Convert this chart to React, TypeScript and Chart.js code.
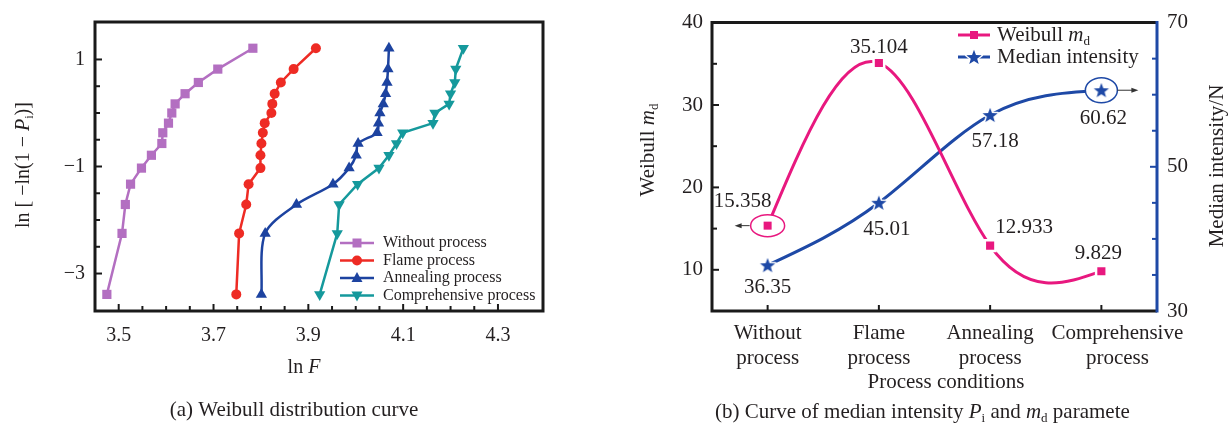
import React, { useEffect, useRef } from 'react';
import { Chart, registerables } from 'chart.js';

Chart.register(...registerables);

// ---------------- Chart (a) data ----------------
const lnP = [-3.39, -2.25, -1.71, -1.33, -1.03, -0.79, -0.57, -0.37, -0.19, 0.0, 0.17, 0.36, 0.57, 0.82, 1.21];
const lnFWithout = [3.475, 3.507, 3.514, 3.525, 3.548, 3.569, 3.591, 3.593, 3.605, 3.612, 3.619, 3.640, 3.668, 3.709, 3.783];
const lnFFlame = [3.748, 3.754, 3.769, 3.774, 3.799, 3.799, 3.801, 3.804, 3.808, 3.822, 3.824, 3.829, 3.842, 3.869, 3.916];
const lnFAnnealing = [3.801, 3.809, 3.875, 3.952, 3.986, 4.001, 4.005, 4.045, 4.048, 4.051, 4.058, 4.063, 4.066, 4.068, 4.070];
const lnFComprehensive = [3.924, 3.961, 3.965, 4.004, 4.049, 4.070, 4.086, 4.099, 4.163, 4.167, 4.197, 4.200, 4.209, 4.211, 4.227];
const seriesNamesA = ['Without process', 'Flame process', 'Annealing process', 'Comprehensive process'];
const xTickLabelsA = [3.5, 3.7, 3.9, 4.1, 4.3];
const yTickLabelsA = [1, -1, -3];

// ---------------- Chart (b) data ----------------
const processConditions = [['Without', 'process'], ['Flame', 'process'], ['Annealing', 'process'], ['Comprehensive', 'process']];
const weibullMd = [15.358, 35.104, 12.933, 9.829];
const medianIntensity = [36.35, 45.01, 57.18, 60.62];
const seriesNamesB = ['Weibull *m*_d', 'Median intensity'];
const yTickLabelsB = [10, 20, 30, 40];
const y1TickLabelsB = [30, 50, 70];

// ---------------- styles ----------------
const FONT = '"Liberation Serif", "Times New Roman", serif';
const TEXT = '#231f20';
const C_PURPLE = '#b36fc1';
const C_RED = '#ee2b24';
const C_BLUE_A = '#1d43a0';
const C_TEAL = '#15999c';
const C_PINK = '#e8187f';
const C_BLUE_B = '#1e49a6';

type Part = { t: string; it?: boolean; sub?: boolean };

function parseRich(s: string): Part[] {
  const parts: Part[] = [];
  let it = false;
  let buf = '';
  const flush = () => {
    if (buf) {
      parts.push({ t: buf, it });
      buf = '';
    }
  };
  for (let i = 0; i < s.length; i++) {
    const ch = s[i];
    if (ch === '*') {
      flush();
      it = !it;
    } else if (ch === '_') {
      flush();
      parts.push({ t: s[i + 1], sub: true });
      i++;
    } else buf += ch;
  }
  flush();
  return parts;
}

function drawRich(ctx: CanvasRenderingContext2D, text: string, x: number, y: number, size: number, align: string, color: string, rot = 0) {
  const parts = parseRich(text);
  const f = (p: Part) => `${p.it ? 'italic ' : ''}${p.sub ? Math.round(size * 0.62) : size}px ${FONT}`;
  let w = 0;
  for (const p of parts) {
    ctx.font = f(p);
    w += ctx.measureText(p.t).width;
  }
  ctx.save();
  ctx.translate(x, y);
  if (rot) ctx.rotate(rot);
  let cx = align === 'center' ? -w / 2 : align === 'right' ? -w : 0;
  ctx.fillStyle = color;
  ctx.textBaseline = 'middle';
  ctx.textAlign = 'left';
  for (const p of parts) {
    ctx.font = f(p);
    ctx.fillText(p.t, cx, p.sub ? size * 0.3 : 0);
    cx += ctx.measureText(p.t).width;
  }
  ctx.restore();
}

function starPath(g: CanvasRenderingContext2D, cx: number, cy: number, ro: number, ri: number) {
  g.beginPath();
  for (let k = 0; k < 10; k++) {
    const r = k % 2 === 0 ? ro : ri;
    const a = -Math.PI / 2 + (k * Math.PI) / 5;
    const px = cx + r * Math.cos(a);
    const py = cy + r * Math.sin(a);
    if (k === 0) g.moveTo(px, py);
    else g.lineTo(px, py);
  }
  g.closePath();
}

function makeStar(r: number, color: string) {
  const size = Math.ceil(2 * (r + 3));
  const c = document.createElement('canvas');
  c.width = size;
  c.height = size;
  const g = c.getContext('2d')!;
  starPath(g, size / 2, size / 2 + r * 0.08, r, r * 0.42);
  g.lineJoin = 'round';
  g.lineWidth = 3;
  g.strokeStyle = '#ffffff';
  g.stroke();
  g.fillStyle = color;
  g.fill();
  return c;
}

function drawMarker(ctx: CanvasRenderingContext2D, kind: string, x: number, y: number, color: string) {
  ctx.save();
  ctx.fillStyle = color;
  ctx.beginPath();
  if (kind === 'rect') {
    ctx.rect(x - 4.5, y - 4.5, 9, 9);
  } else if (kind === 'circle') {
    ctx.arc(x, y, 5, 0, Math.PI * 2);
  } else if (kind === 'tri') {
    ctx.moveTo(x, y - 6);
    ctx.lineTo(x + 5.5, y + 4);
    ctx.lineTo(x - 5.5, y + 4);
    ctx.closePath();
  } else if (kind === 'triDown') {
    ctx.moveTo(x, y + 6);
    ctx.lineTo(x + 5.5, y - 4);
    ctx.lineTo(x - 5.5, y - 4);
    ctx.closePath();
  }
  ctx.fill();
  ctx.restore();
}

function hasVal(list: number[], v: number) {
  return list.some((t) => Math.abs(t - v) < 1e-6);
}

function fmtMinus(v: number) {
  return String(v).replace('-', '\u2212');
}

function line(ctx: CanvasRenderingContext2D, x1: number, y1: number, x2: number, y2: number) {
  ctx.beginPath();
  ctx.moveTo(x1, y1);
  ctx.lineTo(x2, y2);
  ctx.stroke();
}

// natural cubic spline slopes through pixel points (x increasing)
function naturalSlopes(xs: number[], ys: number[]) {
  const n = xs.length;
  const h: number[] = [];
  for (let i = 0; i < n - 1; i++) h[i] = xs[i + 1] - xs[i];
  const M = new Array(n).fill(0);
  if (n > 2) {
    const a: number[] = [], b: number[] = [], c: number[] = [], d: number[] = [];
    for (let i = 1; i < n - 1; i++) {
      a.push(h[i - 1]);
      b.push(2 * (h[i - 1] + h[i]));
      c.push(h[i]);
      d.push(6 * ((ys[i + 1] - ys[i]) / h[i] - (ys[i] - ys[i - 1]) / h[i - 1]));
    }
    const m = b.length;
    for (let i = 1; i < m; i++) {
      const w = a[i] / b[i - 1];
      b[i] -= w * c[i - 1];
      d[i] -= w * d[i - 1];
    }
    const sol = new Array(m);
    sol[m - 1] = d[m - 1] / b[m - 1];
    for (let i = m - 2; i >= 0; i--) sol[i] = (d[i] - c[i] * sol[i + 1]) / b[i];
    for (let i = 0; i < m; i++) M[i + 1] = sol[i];
  }
  const s = new Array(n);
  for (let i = 0; i < n - 1; i++) s[i] = (ys[i + 1] - ys[i]) / h[i] - (h[i] * (2 * M[i] + M[i + 1])) / 6;
  s[n - 1] = (ys[n - 1] - ys[n - 2]) / h[n - 2] + (h[n - 2] * (M[n - 2] + 2 * M[n - 1])) / 6;
  return s;
}

const splinePlugin = {
  id: 'naturalSpline',
  beforeDatasetDraw(chart: any, args: any) {
    const meta = args.meta;
    const el = meta.dataset;
    if (!el || !el.updateControlPoints) return;
    el.updateControlPoints(chart.chartArea, meta.iScale ? meta.iScale.axis : 'x');
    const pts = meta.data;
    const xs = pts.map((p: any) => p.x);
    const ys = pts.map((p: any) => p.y);
    const s = naturalSlopes(xs, ys);
    pts.forEach((p: any, i: number) => {
      const hp = i > 0 ? xs[i] - xs[i - 1] : 0;
      const hn = i < pts.length - 1 ? xs[i + 1] - xs[i] : 0;
      p.cp1x = xs[i] - hp / 3;
      p.cp1y = ys[i] - (s[i] * hp) / 3;
      p.cp2x = xs[i] + hn / 3;
      p.cp2y = ys[i] + (s[i] * hn) / 3;
    });
  },
};

const pluginA = {
  id: 'decorA',
  afterDraw(chart: any) {
    const { ctx, chartArea: a, scales } = chart;
    const xs = scales.x;
    const ys = scales.y;
    ctx.save();
    ctx.strokeStyle = '#1a1a1a';
    ctx.lineWidth = 2;
    for (const t of xs.ticks) {
      const v = Math.round(t.value * 1000) / 1000;
      if (v <= xs.min + 1e-6 || v >= xs.max - 1e-6) continue;
      const px = xs.getPixelForValue(v);
      const len = hasVal(xTickLabelsA, v) ? 7 : 5;
      line(ctx, px, a.bottom, px, a.bottom - len);
    }
    for (const t of ys.ticks) {
      const v = Math.round(t.value * 1000) / 1000;
      if (v <= ys.min + 1e-6 || v >= ys.max - 1e-6) continue;
      const py = ys.getPixelForValue(v);
      const len = hasVal(yTickLabelsA, v) ? 7 : 5;
      line(ctx, a.left, py, a.left + len, py);
    }
    ctx.lineWidth = 3;
    ctx.strokeStyle = '#1a1a1a';
    ctx.strokeRect(a.left, a.top, a.right - a.left, a.bottom - a.top);

    // legend
    const colors = [C_PURPLE, C_RED, C_BLUE_A, C_TEAL];
    const kinds = ['rect', 'circle', 'tri', 'triDown'];
    const rowY = [243, 260.5, 278, 295.5];
    seriesNamesA.forEach((name, i) => {
      ctx.strokeStyle = colors[i];
      ctx.lineWidth = 2.5;
      line(ctx, 340, rowY[i], 374, rowY[i]);
      drawMarker(ctx, kinds[i], 357, rowY[i], colors[i]);
      drawRich(ctx, name, 383, rowY[i], 16, 'left', TEXT);
    });

    drawRich(ctx, 'ln [ \u2212ln(1 \u2212 *P*_i)]', 24, 165, 20, 'center', TEXT, -Math.PI / 2);
    drawRich(ctx, 'ln *F*', 304, 368, 20, 'center', TEXT);
    drawRich(ctx, '(a) Weibull distribution curve', 294, 410, 21, 'center', TEXT);
    ctx.restore();
  },
};

let starB: HTMLCanvasElement | null = null;

const pluginB = {
  id: 'decorB',
  afterDatasetsDraw(chart: any) {
    const { ctx, scales } = chart;
    const xs = scales.x;
    // ellipse around first Weibull point
    const px0 = xs.getPixelForValue(0);
    const py0 = scales.y.getPixelForValue(weibullMd[0]);
    ctx.save();
    ctx.beginPath();
    ctx.ellipse(px0, py0, 17, 11, 0, 0, Math.PI * 2);
    ctx.fillStyle = '#fff';
    ctx.fill();
    ctx.lineWidth = 1.5;
    ctx.strokeStyle = C_PINK;
    ctx.stroke();
    ctx.fillStyle = C_PINK;
    ctx.fillRect(px0 - 4, py0 - 4, 8, 8);
    ctx.strokeStyle = '#333';
    ctx.fillStyle = '#333';
    ctx.lineWidth = 1;
    line(ctx, px0 - 18, py0, px0 - 28, py0);
    ctx.beginPath();
    ctx.moveTo(px0 - 33, py0);
    ctx.lineTo(px0 - 26, py0 - 2.5);
    ctx.lineTo(px0 - 26, py0 + 2.5);
    ctx.closePath();
    ctx.fill();

    // ellipse around last median point
    const n = medianIntensity.length - 1;
    const px3 = xs.getPixelForValue(n);
    const py3 = scales.y1.getPixelForValue(medianIntensity[n]);
    ctx.beginPath();
    ctx.ellipse(px3, py3, 16, 12.5, 0, 0, Math.PI * 2);
    ctx.fillStyle = '#fff';
    ctx.fill();
    ctx.lineWidth = 1.5;
    ctx.strokeStyle = C_BLUE_B;
    ctx.stroke();
    if (starB) ctx.drawImage(starB, px3 - starB.width / 2, py3 - starB.height / 2);
    ctx.strokeStyle = '#333';
    ctx.fillStyle = '#333';
    ctx.lineWidth = 1;
    line(ctx, px3 + 16, py3, px3 + 32, py3);
    ctx.beginPath();
    ctx.moveTo(px3 + 37, py3);
    ctx.lineTo(px3 + 30, py3 - 2.5);
    ctx.lineTo(px3 + 30, py3 + 2.5);
    ctx.closePath();
    ctx.fill();
    ctx.restore();
  },
  afterDraw(chart: any) {
    const { ctx, chartArea: a, scales } = chart;
    const xs = scales.x;
    const ys = scales.y;
    const y1 = scales.y1;
    ctx.save();
    ctx.lineWidth = 2;
    ctx.strokeStyle = '#1a1a1a';
    for (const t of ys.ticks) {
      const v = t.value;
      if (v <= ys.min + 1e-6 || v >= ys.max - 1e-6) continue;
      const py = ys.getPixelForValue(v);
      line(ctx, a.left, py, a.left + (hasVal(yTickLabelsB, v) ? 7 : 5), py);
    }
    // category ticks and two-line labels
    const labelShift = [0, 0, 0, 16];
    processConditions.forEach((lab, i) => {
      const px = xs.getPixelForValue(i);
      line(ctx, px, a.bottom, px, a.bottom - 6);
      lab.forEach((ln, k) => {
        drawRich(ctx, ln, px + labelShift[i], a.bottom + 22 + k * 25, 21, 'center', TEXT);
      });
    });
    ctx.strokeStyle = C_BLUE_B;
    for (const t of y1.ticks) {
      const v = t.value;
      if (v <= y1.min + 1e-6 || v >= y1.max - 1e-6) continue;
      const py = y1.getPixelForValue(v);
      line(ctx, a.right, py, a.right - (hasVal(y1TickLabelsB, v) ? 7 : 5), py);
    }
    ctx.lineWidth = 3;
    ctx.strokeStyle = '#1a1a1a';
    ctx.beginPath();
    ctx.moveTo(a.right, a.top);
    ctx.lineTo(a.left, a.top);
    ctx.lineTo(a.left, a.bottom);
    ctx.lineTo(a.right, a.bottom);
    ctx.stroke();
    ctx.strokeStyle = C_BLUE_B;
    line(ctx, a.right, a.top - 1.5, a.right, a.bottom + 1.5);

    // value labels
    const offW = [[-25, -24], [0, -15], [34, -18], [-3, -18]];
    const offM = [[0, 22], [8, 27], [5, 26], [2, 28]];
    weibullMd.forEach((v, i) => {
      const px = xs.getPixelForValue(i);
      const py = ys.getPixelForValue(v);
      drawRich(ctx, String(v), px + offW[i][0], py + offW[i][1], 21, 'center', TEXT);
    });
    medianIntensity.forEach((v, i) => {
      const px = xs.getPixelForValue(i);
      const py = y1.getPixelForValue(v);
      drawRich(ctx, String(v), px + offM[i][0], py + offM[i][1], 21, 'center', TEXT);
    });

    // legend
    ctx.lineWidth = 3;
    ctx.strokeStyle = C_PINK;
    line(ctx, 343, 35, 375, 35);
    ctx.fillStyle = C_PINK;
    ctx.fillRect(355, 31, 8, 8);
    drawRich(ctx, seriesNamesB[0], 382, 35, 21, 'left', TEXT);
    ctx.strokeStyle = C_BLUE_B;
    line(ctx, 343, 57, 375, 57);
    if (starB) ctx.drawImage(starB, 359 - starB.width / 2, 57 - starB.height / 2);
    drawRich(ctx, seriesNamesB[1], 382, 57, 21, 'left', TEXT);

    // titles
    drawRich(ctx, 'Weibull *m*_d', 33, 150, 21, 'center', TEXT, -Math.PI / 2);
    drawRich(ctx, 'Median intensity/N', 602, 166, 21, 'center', TEXT, -Math.PI / 2);
    drawRich(ctx, 'Process conditions', 331, 382, 21, 'center', TEXT);
    drawRich(ctx, '(b) Curve of median intensity *P*_i and *m*_d paramete', 100, 412, 21, 'left', TEXT);
    ctx.restore();
  },
};

export default function App() {
  const refA = useRef<HTMLCanvasElement>(null);
  const refB = useRef<HTMLCanvasElement>(null);

  useEffect(() => {
    document.body.style.margin = '0';
    Chart.defaults.font.family = FONT;
    starB = makeStar(8, C_BLUE_B);

    const toXY = (xs: number[]) => xs.map((x, i) => ({ x, y: lnP[i] }));
    const noGrid = { display: false, drawTicks: false };
    const noBorder = { display: false };

    const chartA = new Chart(refA.current!, {
      type: 'line',
      data: {
        datasets: [
          { label: seriesNamesA[0], data: toXY(lnFWithout), borderColor: C_PURPLE, backgroundColor: C_PURPLE, borderWidth: 2.5, pointStyle: 'rect', pointRadius: 6.5, pointBorderWidth: 0, tension: 0 },
          { label: seriesNamesA[1], data: toXY(lnFFlame), borderColor: C_RED, backgroundColor: C_RED, borderWidth: 2.5, pointStyle: 'circle', pointRadius: 5, pointBorderWidth: 0, tension: 0 },
          { label: seriesNamesA[2], data: toXY(lnFAnnealing), borderColor: C_BLUE_A, backgroundColor: C_BLUE_A, borderWidth: 2.5, pointStyle: 'triangle', pointRadius: 6.5, pointBorderWidth: 0, tension: 0.3 },
          { label: seriesNamesA[3], data: toXY(lnFComprehensive), borderColor: C_TEAL, backgroundColor: C_TEAL, borderWidth: 2.5, pointStyle: 'triangle', pointRotation: 180, pointRadius: 6.5, pointBorderWidth: 0, tension: 0 },
        ] as any,
      },
      options: {
        responsive: false,
        animation: false,
        layout: { padding: { top: 15, right: 72, left: 0, bottom: 0 } },
        plugins: { legend: { display: false }, tooltip: { enabled: false } },
        scales: {
          x: {
            type: 'linear',
            min: 3.45,
            max: 4.395,
            afterFit: (s: any) => { s.height = 112; },
            grid: noGrid,
            border: noBorder,
            ticks: {
              stepSize: 0.05,
              autoSkip: false,
              maxRotation: 0,
              padding: 13,
              color: TEXT,
              font: { family: FONT, size: 20 },
              callback: (v: any) => {
                const r = Math.round(Number(v) * 1000) / 1000;
                return hasVal(xTickLabelsA, r) ? String(r) : '';
              },
            },
          },
          y: {
            type: 'linear',
            min: -3.7,
            max: 1.7,
            afterFit: (s: any) => { s.width = 95; },
            grid: noGrid,
            border: noBorder,
            ticks: {
              stepSize: 0.5,
              autoSkip: false,
              padding: 10,
              color: TEXT,
              font: { family: FONT, size: 20 },
              callback: (v: any) => {
                const r = Math.round(Number(v) * 1000) / 1000;
                return hasVal(yTickLabelsA, r) ? fmtMinus(r) : '';
              },
            },
          },
        },
      } as any,
      plugins: [pluginA],
    });

    const chartB = new Chart(refB.current!, {
      type: 'line',
      data: {
        labels: processConditions as any,
        datasets: [
          { label: seriesNamesB[0], data: weibullMd, yAxisID: 'y', borderColor: C_PINK, backgroundColor: C_PINK, borderWidth: 3, pointStyle: 'rect', pointRadius: 7.5, pointBorderColor: '#ffffff', pointBorderWidth: 2.5, tension: 0.4 },
          { label: seriesNamesB[1], data: medianIntensity, yAxisID: 'y1', borderColor: C_BLUE_B, backgroundColor: C_BLUE_B, borderWidth: 3, pointStyle: starB as any, tension: 0.4 },
        ] as any,
      },
      options: {
        responsive: false,
        animation: false,
        layout: { padding: { top: 16, right: 0, left: 0, bottom: 0 } },
        plugins: { legend: { display: false }, tooltip: { enabled: false } },
        scales: {
          x: {
            type: 'category',
            offset: true,
            afterFit: (s: any) => { s.height = 112; },
            grid: noGrid,
            border: noBorder,
            ticks: { display: false, autoSkip: false, maxRotation: 0 },
          },
          y: {
            type: 'linear',
            position: 'left',
            min: 5,
            max: 40,
            afterFit: (s: any) => { s.width = 97; },
            grid: noGrid,
            border: noBorder,
            ticks: {
              stepSize: 5,
              autoSkip: false,
              padding: 9,
              color: TEXT,
              font: { family: FONT, size: 21 },
              callback: (v: any) => (hasVal(yTickLabelsB, Number(v)) ? String(v) : ''),
            },
          },
          y1: {
            type: 'linear',
            position: 'right',
            min: 30,
            max: 70,
            afterFit: (s: any) => { s.width = 73; },
            grid: noGrid,
            border: noBorder,
            ticks: {
              stepSize: 5,
              autoSkip: false,
              padding: 10,
              color: TEXT,
              font: { family: FONT, size: 21 },
              callback: (v: any) => (hasVal(y1TickLabelsB, Number(v)) ? String(v) : ''),
            },
          },
        },
      } as any,
      plugins: [splinePlugin, pluginB],
    });

    return () => {
      chartA.destroy();
      chartB.destroy();
    };
  }, []);

  return (
    <div style={{ position: 'absolute', left: 0, top: 0, width: 1230, height: 423, background: '#ffffff' }}>
      <canvas ref={refA} width={615} height={423} style={{ position: 'absolute', left: 0, top: 0, width: 615, height: 423 }} />
      <canvas ref={refB} width={615} height={423} style={{ position: 'absolute', left: 615, top: 0, width: 615, height: 423 }} />
    </div>
  );
}
